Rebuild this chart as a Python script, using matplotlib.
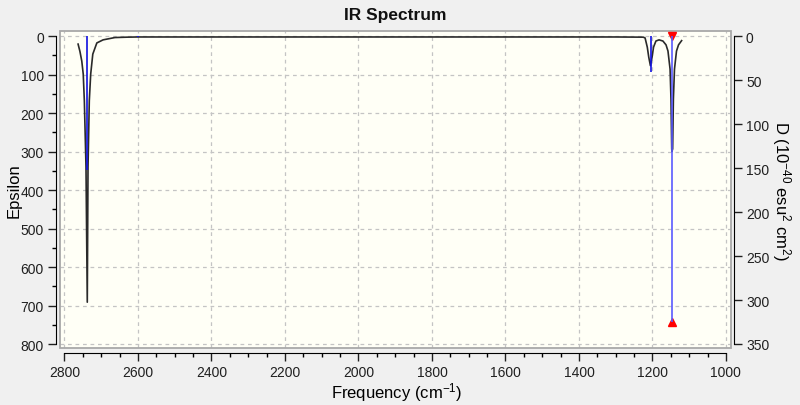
import matplotlib
matplotlib.use("Agg")
import matplotlib.pyplot as plt
from matplotlib.patches import Rectangle
from matplotlib.ticker import MultipleLocator

plt.rcParams['font.family'] = ['Liberation Sans', 'DejaVu Sans']
plt.rcParams['mathtext.default'] = 'regular'

# Spectrum curve: frequency (cm-1), epsilon
freq = [2763, 2758, 2753, 2749, 2746, 2741.5, 2738, 2736, 2732.5, 2728.7, 2723,
        2712, 2695, 2663, 2630, 2600, 2400, 2000, 1600, 1300, 1225, 1220,
        1214, 1210, 1205.5, 1201, 1197, 1190.5, 1182, 1171.5, 1163, 1157.7,
        1152, 1149.5, 1147.5, 1147, 1145, 1143, 1140, 1134.5, 1129, 1120.6]
epsilon = [21, 40, 65, 99, 168, 340, 691, 340, 168, 99, 47,
           18, 10, 4, 3, 2.5, 2.5, 2.5, 2.5, 2.5, 3, 5,
           29, 55, 77, 55, 29, 13, 10, 13, 23, 39,
           86, 164, 293, 300, 293, 164, 86, 39, 23, 12]

# Stick spectrum: frequency (cm-1), dipole strength D
stick_freq = [2738, 2600, 1205, 1146]
stick_D = [152, 0.6, 41, 325]
selected = 3

fig = plt.figure(figsize=(8.0, 4.06), dpi=100, facecolor='#f0f0f0')
ax = fig.add_axes([59.5 / 800, 1 - 349 / 406, 671.2 / 800, 317 / 406])
ax.set_facecolor('#fffff6')

ax.plot(freq, epsilon, color='#2a2a2a', lw=1.2, zorder=3)
ax.set_xlim(2813.6, 987)
ax.set_ylim(810, -13)

ax.xaxis.set_major_locator(MultipleLocator(200))
ax.xaxis.set_minor_locator(MultipleLocator(50))
ax.yaxis.set_major_locator(MultipleLocator(100))
ax.yaxis.set_minor_locator(MultipleLocator(50))
ax.grid(True, which='major', ls=(0, (3, 3)), color='#c4c4c4', lw=0.9)

for s in ['top', 'right']:
    ax.spines[s].set_visible(False)
ax.spines['left'].set_position(('outward', 2.5))
ax.spines['bottom'].set_position(('outward', 3.6))
ax.spines['left'].set_bounds(0, 800)
ax.spines['bottom'].set_bounds(1000, 2800)
ax.tick_params(which='major', direction='out', length=5.8, width=1, labelsize=10,
               colors='#202020', pad=3)
ax.tick_params(which='minor', direction='out', length=3.2, width=1)

ax.add_patch(Rectangle((0, 0), 1, 1, transform=ax.transAxes, fill=False,
                       ec='#a8a8a8', lw=1.3, clip_on=False, zorder=5))

ax2 = ax.twinx()
ax2.patch.set_visible(False)
ax2.set_ylim(354.6, -6.0)
ax2.yaxis.set_major_locator(MultipleLocator(50))
for s in ['top', 'left', 'bottom']:
    ax2.spines[s].set_visible(False)
ax2.spines['right'].set_position(('outward', 2.2))
ax2.spines['right'].set_bounds(0, 350)
ax2.tick_params(which='major', direction='out', length=5.8, width=1, labelsize=10,
                colors='#202020', pad=3)

for i, (f, d) in enumerate(zip(stick_freq, stick_D)):
    c = '#5a5aff' if i == selected else '#1010e0'
    ax2.vlines(f, 0, d, color=c, lw=1.2, zorder=4)
ax2.plot([stick_freq[selected]], [0], marker='v', color='red', ms=6, ls='none', clip_on=False)
ax2.plot([stick_freq[selected]], [stick_D[selected]], marker='^', color='red', ms=6, ls='none')

fig.text(0.494, 0.962, 'IR Spectrum', ha='center', va='center', fontsize=12.5,
         fontweight='bold', color='#111111')
ax.set_xlabel('Frequency (cm$^{-1}$)', fontsize=12, va='center', ha='center')
ax.xaxis.set_label_coords(0.503, -0.137)
ax.set_ylabel('Epsilon', fontsize=12, va='center', ha='center')
ax.yaxis.set_label_coords(-0.067, 0.5)
ax2.set_ylabel('D (10$^{-40}$ esu$^{2}$ cm$^{2}$)', fontsize=12, rotation=270,
               va='center', ha='center')
ax2.yaxis.set_label_coords(1.076, 0.5)

fig.savefig('out.png', dpi=100, facecolor=fig.get_facecolor())
